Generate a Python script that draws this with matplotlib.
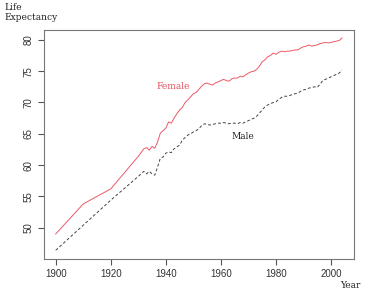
import matplotlib
matplotlib.use("Agg")
import matplotlib.pyplot as plt

plt.rcParams['font.family'] = ['Liberation Sans', 'DejaVu Sans']

years = [1900, 1910, 1920] + list(range(1930, 2005))

female = [49.0, 53.8, 56.2,
          61.4, 62.0, 62.6, 62.8, 62.4, 63.0, 62.7, 63.7, 65.1, 65.5,
          65.9, 66.9, 66.7, 67.5, 68.2, 68.8, 69.2, 70.0, 70.4, 70.9,
          71.4, 71.6, 72.1, 72.6, 73.0, 73.1, 72.9, 72.8, 73.1, 73.3,
          73.5, 73.7, 73.5, 73.4, 73.8, 73.9, 73.9, 74.2, 74.1, 74.4,
          74.7, 74.9, 75.0, 75.3, 75.8, 76.5, 76.8, 77.3, 77.5, 77.9,
          77.7, 78.0, 78.2, 78.1, 78.2, 78.2, 78.3, 78.4, 78.4, 78.7,
          78.9, 79.0, 79.2, 79.0, 79.1, 79.2, 79.4, 79.5, 79.6, 79.5,
          79.6, 79.7, 79.8, 79.9, 80.3]

male = [46.4, 50.4, 54.4,
        58.2, 58.6, 59.0, 58.6, 59.0, 58.6, 58.4, 59.7, 61.1, 61.3,
        61.9, 62.1, 62.0, 62.6, 62.9, 63.2, 64.0, 64.4, 64.8, 65.0,
        65.3, 65.5, 65.8, 66.3, 66.6, 66.5, 66.4, 66.5, 66.6, 66.7,
        66.7, 66.8, 66.7, 66.6, 66.7, 66.7, 66.6, 66.8, 66.7, 66.9,
        67.1, 67.3, 67.5, 67.8, 68.3, 68.8, 69.3, 69.6, 69.8, 70.0,
        70.1, 70.5, 70.8, 71.0, 71.0, 71.1, 71.3, 71.4, 71.5, 71.8,
        72.0, 72.1, 72.3, 72.4, 72.5, 72.4, 72.9, 73.5, 73.7, 73.9,
        74.1, 74.3, 74.5, 74.7, 75.2]

xticks = [1900, 1920, 1940, 1960, 1980, 2000]
yticks = [50, 55, 60, 65, 70, 75, 80]

fig = plt.figure(figsize=(3.74, 2.94), dpi=100)
ax = fig.add_axes([0.1185, 0.12, 0.8272, 0.778])

ax.plot(years, female, color='#ec5a66', lw=0.7)
ax.plot(years, male, color='#444444', lw=0.7, ls=(0, (3, 2.2)))

ax.set_xlim(1895.86, 2008.25)
ax.set_ylim(45.05, 81.58)
ax.set_xticks(xticks)
ax.set_yticks(yticks)
ax.set_xticklabels([str(t) for t in xticks], family='Liberation Sans', fontsize=7, color='#333333')
ax.set_yticklabels([str(t) for t in yticks], family='Liberation Sans', fontsize=7, color='#333333',
                   rotation=90, va='center')
ax.tick_params(direction='out', length=4, width=0.8, color='#555555', pad=3.5)
for s in ax.spines.values():
    s.set_color('#777777')
    s.set_linewidth(0.8)

ax.text(1942.6, 72.5, 'Female', color='#e8505c', family='DejaVu Serif', fontsize=6.5,
        ha='center', va='center')
ax.text(1968, 64.6, 'Male', color='#222222', family='DejaVu Serif', fontsize=6.5,
        ha='center', va='center')

fig.text(4 / 374, 1 - 3 / 294, 'Life\nExpectancy', family='DejaVu Serif', fontsize=6.5,
         ha='left', va='top', color='#222222', linespacing=1.1)
fig.text(361 / 374, 1 - 286 / 294, 'Year', family='DejaVu Serif', fontsize=6.5,
         ha='right', va='center', color='#222222')

fig.savefig('out.png', dpi=100)
